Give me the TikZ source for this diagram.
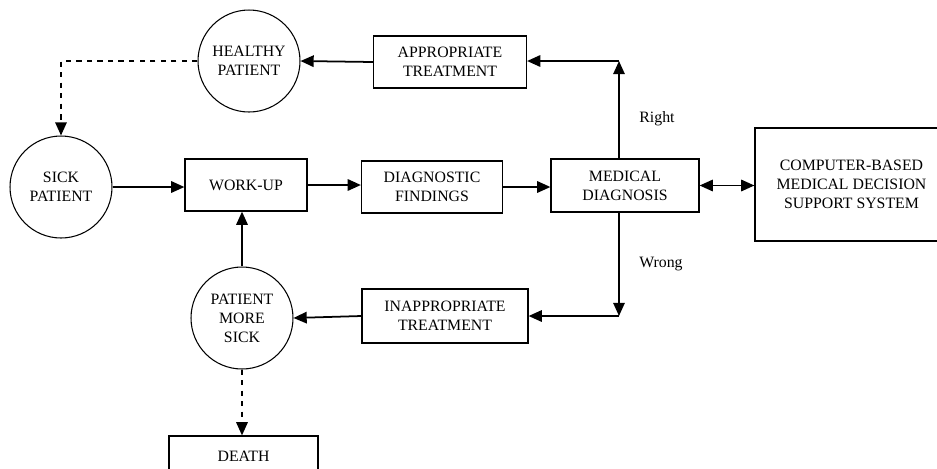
\documentclass[tikz,border=0pt]{standalone}
\usepackage{fontspec}
\setmainfont{Liberation Serif}
\usetikzlibrary{arrows.meta}

\tikzset{
  caja/.style={draw, line width=0.7pt, inner sep=0pt, align=center},
  circulo/.style={draw, circle, line width=0.6pt, inner sep=0pt, minimum size=2.04cm, align=center},
  punta/.tip={Triangle[length=7.5pt,width=6.5pt]},
  flecha/.style={line width=1pt, -punta},
}

\begin{document}
\begin{tikzpicture}[x=0.02cm, y=-0.02cm, font=\fontsize{9}{10.8}\selectfont]
    \useasboundingbox (0,0) rectangle (937,468);
    % Estados del paciente
    \node[circulo] (heal) at (249,61) {HEALTHY\\PATIENT};
    \node[circulo] (sick) at (61,187) {SICK\\PATIENT};
    \node[circulo] (moresick) at (242,318) {PATIENT\\MORE\\SICK};
    % Cajas del proceso
    \node[caja, minimum width=3.06cm, minimum height=1.04cm] (approp) at (450,62) {APPROPRIATE\\TREATMENT};
    \node[caja, minimum width=2.44cm, minimum height=1.04cm] (workup) at (246,185) {WORK-UP};
    \node[caja, minimum width=2.82cm, minimum height=1.04cm] (findings) at (432,187) {DIAGNOSTIC\\FINDINGS};
    \node[caja, minimum width=2.96cm, minimum height=1.06cm] (diag) at (625,185.5) {MEDICAL\\DIAGNOSIS};
    \node[caja, minimum width=3.86cm, minimum height=2.26cm] (cdss) at (851.5,184.5) {COMPUTER-BASED\\MEDICAL DECISION\\SUPPORT SYSTEM};
    \node[caja, minimum width=3.32cm, minimum height=1.08cm] (inapprop) at (445,316) {INAPPROPRIATE\\TREATMENT};
    \node[caja, minimum width=2.98cm, minimum height=0.8cm] (death) at (243.5,456) {DEATH};
    % Etiquetas de las ramas
    \node (right) at (657,119) {Right};
    \node (wrong) at (661,264) {Wrong};
    \coordinate (rj) at (619,61);
    \coordinate (wj) at (619,316);
    % Flechas principales
    \draw[flecha] (sick.east) -- (sick.east -| workup.west);
    \draw[flecha] (workup.east) -- (workup.east -| findings.west);
    \draw[flecha] (findings.east) -- (findings.east -| diag.west);
    \draw[line width=1pt, punta-punta] (diag.east) -- (diag.east -| cdss.west);
    % Rama correcta
    \draw[flecha] (diag.north -| rj) -- (rj);
    \draw[flecha] (rj) -- (rj -| approp.east);
    \draw[flecha] (approp.west) -- (heal.east);
    \draw[flecha, dashed] (heal.west) -| (sick.north);
    % Rama incorrecta
    \draw[flecha] (diag.south -| wj) -- (wj);
    \draw[flecha] (wj) -- (wj -| inapprop.east);
    \draw[flecha] (inapprop.west) -- (moresick.east);
    \draw[flecha] (moresick.north) -- (moresick.north |- workup.south);
    \draw[flecha, dashed] (moresick.south) -- (moresick.south |- death.north);
\end{tikzpicture}
\end{document}
